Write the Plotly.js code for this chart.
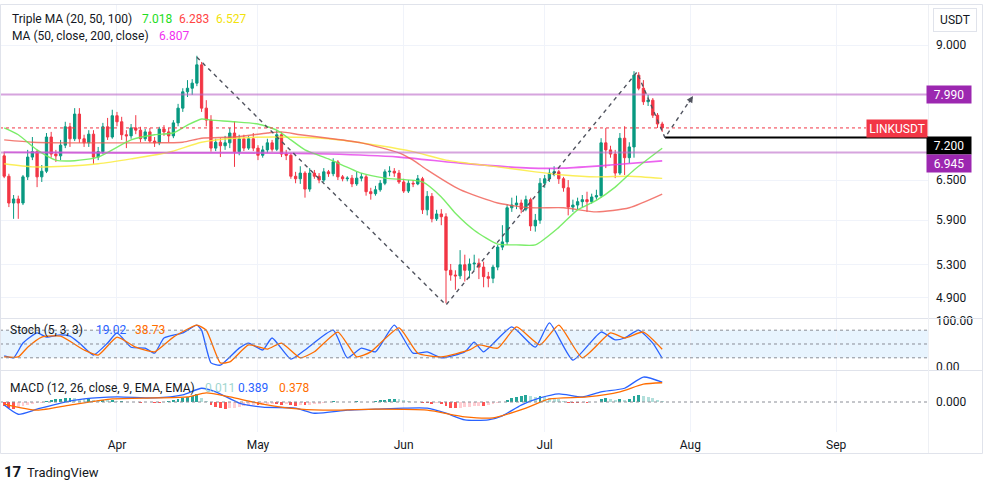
<!DOCTYPE html>
<html><head><meta charset="utf-8">
<script src="https://cdn.plot.ly/plotly-3.0.1.min.js"></script>
<style>html,body{margin:0;padding:0;background:#fff;}#chart{width:984px;height:481px;}</style>
</head><body><div id="chart"></div>
<script>
// ---- candle data (LINKUSDT daily, from 2023-03-08) ----
const startDate = [2023, 2, 8];
const open = [6.89,6.56,6.15,6.21,6.15,6.55,6.87,6.96,6.55,6.64,
7.21,6.92,6.89,7.07,7.39,7.18,7.62,7.18,7.11,7.26,
6.87,6.96,7.39,7.21,7.59,7.48,7.25,7.23,7.37,7.33,
7.18,7.30,7.14,7.11,7.35,7.30,7.23,7.46,7.73,8.04,
8.11,8.21,8.58,7.73,7.51,7.02,7.12,7.06,7.11,7.28,
6.96,7.18,7.02,7.18,7.02,6.90,6.99,7.11,7.00,7.25,
6.92,6.90,6.56,6.52,6.61,6.36,6.61,6.56,6.50,6.63,
6.60,6.79,6.55,6.52,6.53,6.44,6.53,6.55,6.32,6.29,
6.35,6.45,6.63,6.64,6.61,6.47,6.33,6.45,6.44,6.52,
6.05,6.25,5.92,5.99,5.95,5.23,5.17,5.16,5.30,5.23,
5.31,5.32,5.27,5.15,5.13,5.27,5.53,5.60,6.08,6.12,
6.15,6.06,6.20,5.82,5.90,6.45,6.52,6.61,6.63,6.52,
6.38,6.09,6.12,6.17,6.20,6.17,6.24,6.26,7.11,6.99,
6.92,6.61,7.19,6.86,7.04,8.37,8.11,7.85,7.88,7.60,
7.44];
const close = [6.56,6.15,6.21,6.15,6.55,6.87,6.96,6.55,6.64,7.21,
6.92,6.89,7.07,7.39,7.18,7.62,7.18,7.11,7.26,6.87,
6.96,7.39,7.21,7.59,7.48,7.25,7.23,7.37,7.33,7.18,
7.30,7.14,7.11,7.35,7.30,7.23,7.46,7.73,8.04,8.11,
8.21,8.58,7.73,7.51,7.02,7.12,7.06,7.11,7.28,6.96,
7.18,7.02,7.18,7.02,6.90,6.99,7.11,7.00,7.25,6.92,
6.90,6.56,6.52,6.61,6.36,6.61,6.56,6.50,6.63,6.60,
6.79,6.55,6.52,6.53,6.44,6.53,6.55,6.32,6.29,6.35,
6.45,6.63,6.64,6.61,6.47,6.33,6.45,6.44,6.52,6.05,
6.25,5.92,5.99,5.95,5.23,5.17,5.16,5.30,5.23,5.31,
5.32,5.27,5.15,5.13,5.27,5.53,5.60,6.08,6.12,6.15,
6.06,6.20,5.82,5.90,6.45,6.52,6.61,6.63,6.52,6.38,
6.09,6.12,6.17,6.20,6.17,6.24,6.26,7.11,6.99,6.92,
6.61,7.19,6.86,7.04,8.37,8.11,7.85,7.88,7.60,7.44,
7.37];
const high = [6.96,6.60,6.27,6.26,6.58,6.99,7.21,6.99,6.74,7.28,
7.30,6.99,7.16,7.48,7.46,7.73,7.73,7.25,7.33,7.33,
7.04,7.46,7.55,7.70,7.66,7.57,7.33,7.44,7.60,7.39,
7.35,7.37,7.21,7.39,7.42,7.37,7.51,7.81,8.11,8.27,
8.29,8.77,8.64,7.88,7.60,7.18,7.19,7.23,7.37,7.49,
7.25,7.25,7.23,7.28,7.07,7.06,7.18,7.16,7.33,7.30,
6.99,6.94,6.63,6.72,6.64,6.69,6.66,6.61,6.69,6.66,
6.85,6.82,6.58,6.56,6.58,6.63,6.61,6.58,6.38,6.41,
6.50,6.67,6.72,6.69,6.66,6.52,6.50,6.50,6.58,6.55,
6.33,6.30,6.05,6.06,6.00,5.31,5.23,5.49,5.43,5.38,
5.43,5.38,5.34,5.21,5.30,5.56,5.83,6.13,6.23,6.26,
6.20,6.26,6.23,5.99,6.53,6.58,6.69,6.72,6.66,6.55,
6.50,6.20,6.23,6.27,6.32,6.29,6.35,7.19,7.37,7.06,
6.99,7.28,7.40,7.12,8.45,8.43,8.27,7.98,7.92,7.64,
7.48];
const low = [6.53,6.09,5.92,5.92,6.12,6.50,6.82,6.39,6.47,6.61,
6.86,6.79,6.82,7.02,7.04,7.14,7.11,7.04,7.04,6.76,
6.82,6.92,7.16,7.18,7.40,7.16,7.02,7.18,7.26,7.12,
7.14,7.11,7.04,7.07,7.23,7.12,7.19,7.40,7.66,7.94,
7.98,8.15,7.66,7.40,6.96,6.97,6.87,6.99,7.02,6.71,
6.90,6.97,6.99,6.97,6.82,6.86,6.94,6.96,6.97,6.87,
6.82,6.52,6.45,6.44,6.23,6.32,6.52,6.45,6.47,6.55,
6.56,6.50,6.48,6.48,6.39,6.41,6.48,6.26,6.20,6.26,
6.32,6.42,6.56,6.55,6.44,6.30,6.30,6.39,6.42,5.99,
5.97,5.87,5.89,5.83,4.83,5.10,4.99,5.12,5.09,5.13,
5.23,5.12,5.02,5.02,5.07,5.23,5.49,5.56,6.02,6.06,
6.00,6.03,5.75,5.74,5.85,6.38,6.47,6.56,6.44,6.32,
5.97,6.02,6.05,6.09,6.02,6.14,6.20,6.23,6.69,6.86,
6.53,6.58,6.58,6.77,6.86,8.07,7.79,7.77,7.55,7.37,
7.30];

// ---- moving averages ----
const ma20Dates = ['2023-03-08','2023-03-11','2023-03-15','2023-03-19','2023-03-23','2023-03-28','2023-04-04','2023-04-09','2023-04-13','2023-04-16','2023-04-19','2023-04-21','2023-04-26','2023-05-01','2023-05-05','2023-05-08','2023-05-11','2023-05-16','2023-05-23','2023-05-28','2023-06-05','2023-06-09','2023-06-12','2023-06-16','2023-06-21','2023-06-25','2023-06-29','2023-07-04','2023-07-08','2023-07-12','2023-07-16','2023-07-20','2023-07-26'];
const ma20 = [7.37,7.25,6.99,6.82,6.81,6.87,7.16,7.25,7.28,7.42,7.53,7.51,7.48,7.44,7.33,7.16,6.99,6.84,6.61,6.53,6.47,6.24,6.00,5.76,5.57,5.56,5.56,5.80,6.05,6.19,6.39,6.66,7.018];
const ma50Dates = ['2023-03-08','2023-03-14','2023-03-21','2023-04-01','2023-04-08','2023-04-15','2023-04-19','2023-04-26','2023-05-03','2023-05-06','2023-05-10','2023-05-16','2023-05-23','2023-05-31','2023-06-03','2023-06-06','2023-06-13','2023-06-21','2023-06-28','2023-07-05','2023-07-12','2023-07-19','2023-07-26'];
const ma50 = [7.16,7.12,7.11,7.11,7.11,7.12,7.19,7.21,7.28,7.30,7.25,7.19,7.11,6.94,6.82,6.66,6.35,6.15,6.08,6.08,6.02,6.08,6.283];
const ma100Dates = ['2023-03-08','2023-03-14','2023-03-21','2023-03-28','2023-04-04','2023-04-12','2023-04-19','2023-04-26','2023-05-06','2023-05-16','2023-05-27','2023-06-03','2023-06-10','2023-06-21','2023-06-29','2023-07-05','2023-07-12','2023-07-19','2023-07-26'];
const ma100 = [6.76,6.71,6.72,6.76,6.84,6.95,7.12,7.19,7.21,7.18,7.06,6.96,6.82,6.71,6.63,6.58,6.55,6.56,6.527];
const ma200Dates = ['2023-03-08','2023-04-01','2023-04-26','2023-05-16','2023-05-31','2023-06-13','2023-06-28','2023-07-05','2023-07-15','2023-07-26'];
const ma200 = [6.95,6.94,6.94,6.92,6.87,6.77,6.69,6.69,6.74,6.807];

// ---- drawings ----
const levelLines = [7.99, 6.945];
const levelLabels = ['7.990', '6.945'];
const rayLevel = 7.20;
const rayStart = '2023-07-26 14:00';
const pathDates = ['2023-04-18','2023-06-10','2023-07-20 15:00','2023-07-26 14:00','2023-08-01 13:00'];
const pathPrices = [8.74, 4.81, 8.43, 7.20, 7.96];

// ---- stochastic (5,3,3) ----
const stochKDates = ['03-08','03-10','03-12','03-15','03-17','03-20','03-22','03-24','03-27','03-30','04-01','04-04','04-07','04-09','04-11','04-15','04-18','04-19','04-21','04-23','04-27','04-29','05-02','05-04','05-08','05-11','05-17','05-20','05-23','05-26','05-30','06-03','06-06','06-09','06-14','06-16','06-18','06-24','06-29','07-02','07-07','07-13','07-16','07-18','07-21','07-24','07-26'];
const stochK = [24,20,52,74,65,70,67,52,26,52,74,43,41,30,63,74,91,80,9,4,41,52,37,63,17,37,80,20,41,33,91,30,33,20,33,54,33,87,43,96,15,76,59,63,80,52,19.02];
const stochDDates = ['03-08','03-11','03-13','03-16','03-20','03-25','03-28','04-01','04-05','04-09','04-13','04-18','04-20','04-23','04-25','04-29','05-03','05-06','05-10','05-13','05-18','05-22','05-25','05-31','06-04','06-09','06-15','06-17','06-21','06-25','06-30','07-04','07-09','07-15','07-18','07-22','07-26'];
const stochD = [22,22,43,65,67,37,26,65,43,33,65,91,80,9,11,48,39,52,20,33,76,22,33,85,30,22,37,48,41,87,48,91,20,74,63,76,38.73];

// ---- MACD (12,26,9) ----
const macdDates = ['03-08','03-11','03-15','03-20','03-25','04-01','04-09','04-15','04-19','04-22','04-27','05-02','05-09','05-13','05-20','05-26','06-01','06-06','06-10','06-14','06-19','06-22','06-26','06-30','07-04','07-09','07-13','07-18','07-22','07-26'];
const macd = [-0.06,-0.24,-0.14,-0.02,0.06,0.10,0.08,0.14,0.27,0.20,-0.02,-0.10,-0.12,-0.22,-0.16,-0.14,-0.12,-0.12,-0.22,-0.35,-0.35,-0.27,-0.06,0.08,0.16,0.10,0.20,0.27,0.49,0.389];
const signalDates = ['03-08','03-15','03-22','03-31','04-09','04-16','04-20','04-25','05-02','05-10','05-17','05-26','06-06','06-14','06-20','06-27','07-02','07-10','07-17','07-22','07-26'];
const signal = [-0.04,-0.16,-0.06,0.06,0.08,0.10,0.18,0.10,-0.04,-0.14,-0.16,-0.14,-0.16,-0.29,-0.31,-0.12,0.06,0.10,0.20,0.35,0.378];
const hist = [-0.08,-0.12,-0.13,-0.10,-0.07,
-0.05,-0.03,-0.02,-0.01,
0.02,0.04,0.05,0.06,0.07,0.08,0.07,0.06,
0.05,0.06,0.04,0.03,0.04,0.03,
0.03,0.02,0.02,0.01,0.01,0.00,-0.01,0.01,0.00,
-0.01,-0.01,0.01,0.02,0.03,0.05,
0.08,0.10,0.12,0.15,
0.08,0.02,
-0.06,-0.10,-0.12,-0.13,-0.12,
-0.11,-0.09,-0.08,-0.07,-0.06,-0.06,
-0.05,-0.04,-0.03,-0.04,-0.05,-0.04,
-0.06,-0.07,-0.06,-0.06,-0.05,-0.04,
-0.03,-0.01,0.01,0.02,0.01,
0.01,0.00,0.01,0.02,0.01,0.00,0.01,
0.02,0.03,0.04,0.05,0.06,0.05,0.03,
0.02,0.00,0.01,-0.01,-0.01,-0.03,-0.02,
-0.04,-0.08,-0.11,-0.12,-0.11,-0.10,-0.09,
-0.08,-0.07,-0.07,-0.06,-0.04,-0.02,0.01,
0.04,0.07,0.10,0.12,0.13,0.12,0.10,0.11,
0.10,0.08,0.07,0.05,0.02,
-0.01,-0.02,-0.02,-0.01,-0.01,0.00,
0.01,0.06,0.07,0.05,0.03,0.05,0.04,0.05,
0.11,0.13,0.12,0.10,0.07,0.04,0.011];

const monthTicks = ['Apr','May','Jun','Jul','Aug','Sep'];
const priceTicks = [9, 6.5, 5.9, 5.3, 4.9];
const priceTickText = ['9.000','6.500','5.900','5.300','4.900'];

// ---------------------------------------------------------------
const dates = open.map((_, i) => new Date(Date.UTC(startDate[0], startDate[1], startDate[2] + i)).toISOString().slice(0, 10));
const full = arr => arr.map(d => '2023-' + d);
const X0 = '2023-03-07 02:40', X1 = '2023-09-20 13:12';
const PW = 928, PH = 427, BOT = 432;
const px = x => x / PW;
const py = y => (BOT - y) / PH;

const histColors = hist.map((v, i) => {
  const p = i > 0 ? hist[i - 1] : 0;
  if (v >= 0) return v >= p ? '#26a69a' : '#b2dfdb';
  return v <= p ? '#ff5252' : '#ffcdd2';
});

const traces = [
  {type:'candlestick', x:dates, open, high, low, close, xaxis:'x', yaxis:'y',
   increasing:{line:{color:'#089981', width:1}, fillcolor:'#089981'},
   decreasing:{line:{color:'#f23645', width:1}, fillcolor:'#f23645'},
   whiskerwidth:0, hoverinfo:'skip'},
  {type:'scatter', mode:'lines', x:ma200Dates, y:ma200, yaxis:'y', line:{color:'rgba(230,60,235,0.8)', width:1.6, shape:'spline', smoothing:0.6}, hoverinfo:'skip'},
  {type:'scatter', mode:'lines', x:ma100Dates, y:ma100, yaxis:'y', line:{color:'rgba(250,235,60,0.85)', width:1.4, shape:'spline', smoothing:0.6}, hoverinfo:'skip'},
  {type:'scatter', mode:'lines', x:ma50Dates, y:ma50, yaxis:'y', line:{color:'rgba(240,90,80,0.8)', width:1.4, shape:'spline', smoothing:0.6}, hoverinfo:'skip'},
  {type:'scatter', mode:'lines', x:ma20Dates, y:ma20, yaxis:'y', line:{color:'rgba(110,235,90,0.9)', width:1.4, shape:'spline', smoothing:0.6}, hoverinfo:'skip'},
  // horizontal levels
  ...levelLines.map(v => ({type:'scatter', mode:'lines', x:[X0, X1], y:[v, v], yaxis:'y', line:{color:'rgba(186,104,200,0.6)', width:2}, hoverinfo:'skip'})),
  {type:'scatter', mode:'lines', x:[X0, '2023-09-07 09:00'], y:[close[close.length-1], close[close.length-1]], yaxis:'y', line:{color:'#f23645', width:1, dash:'dot'}, hoverinfo:'skip'},
  {type:'scatter', mode:'lines', x:[rayStart, X1], y:[rayLevel, rayLevel], yaxis:'y', line:{color:'#000000', width:2}, hoverinfo:'skip'},
  {type:'scatter', mode:'lines', x:pathDates, y:pathPrices, yaxis:'y', line:{color:'#50535e', width:1.4, dash:'4px,4px'}, hoverinfo:'skip'},
  // stochastic
  {type:'scatter', mode:'lines', x:full(stochKDates), y:stochK, yaxis:'y2', line:{color:'#2962ff', width:1.3, shape:'spline', smoothing:0.5}, hoverinfo:'skip'},
  {type:'scatter', mode:'lines', x:full(stochDDates), y:stochD, yaxis:'y2', line:{color:'#ff6d00', width:1.3, shape:'spline', smoothing:0.5}, hoverinfo:'skip'},
  // MACD
  {type:'bar', x:dates, y:hist, yaxis:'y3', marker:{color:histColors, line:{width:0}}, width:0.6*86400000, hoverinfo:'skip'},
  {type:'scatter', mode:'lines', x:full(macdDates), y:macd, yaxis:'y3', line:{color:'#2962ff', width:1.3, shape:'spline', smoothing:0.6}, hoverinfo:'skip'},
  {type:'scatter', mode:'lines', x:full(signalDates), y:signal, yaxis:'y3', line:{color:'#ff6d00', width:1.3, shape:'spline', smoothing:0.6}, hoverinfo:'skip'}
];

const FONT = 'Trebuchet MS, Roboto, Liberation Sans, sans-serif';
const txt = (x, y, text, color, size, anchor) => ({xref:'paper', yref:'paper', x:px(x), y:py(y), text, showarrow:false,
  xanchor:anchor || 'left', yanchor:'middle', font:{family:FONT, size:size || 12, color:color || '#131722'}});
const tag = (cx, cy, text, bg, w) => ({xref:'paper', yref:'paper', x:px(cx), y:py(cy), text, showarrow:false,
  xanchor:'center', yanchor:'middle', bgcolor:bg, width:w || 42, height:15, borderpad:1,
  font:{family:FONT, size:12, color:'#ffffff'}});

const annotations = [
  txt(10, 19, 'Triple MA (20, 50, 100)'),
  txt(140, 19, '7.018', '#22dd22'),
  txt(177, 19, '6.283', '#ff4545'),
  txt(214, 19, '6.527', '#f2e20a'),
  txt(10, 36, 'MA (50, close, 200, close)'),
  txt(157, 36, '6.807', '#f030f0'),
  txt(8, 330, 'Stoch (5, 3, 3)'),
  txt(94, 330, '19.02', '#2962ff'),
  txt(133, 330, '38.73', '#ff6d00'),
  txt(8, 388, 'MACD (12, 26, close, 9, EMA, EMA)'),
  txt(203, 388, '0.011', '#9fd6cf'),
  txt(236, 388, '0.389', '#2962ff'),
  txt(277, 388, '0.378', '#ff6d00'),
  tag(949, 94.5, levelLabels[0], '#9c27b0'),
  tag(949, 145, rayLevel.toFixed(3), '#000000'),
  tag(949, 163, levelLabels[1], '#9c27b0'),
  tag(896.5, 128.5, 'LINKUSDT', '#f23645', 58),
  {xref:'paper', yref:'paper', x:px(954.5), y:py(20), text:'USDT', showarrow:false, xanchor:'center', yanchor:'middle',
   width:40, height:20, bgcolor:'#ffffff', bordercolor:'#e0e3eb', borderwidth:1, font:{family:FONT, size:12, color:'#131722'}},
  txt(2, 472, '<b>17</b>', '#131722', 15),
  txt(25, 472, 'TradingView', '#131722', 13),
  {xref:'x', yref:'y', x:pathDates[4], y:Math.log10(pathPrices[4]), ax:-5, ay:8, showarrow:true, arrowhead:2, arrowsize:1, arrowwidth:1.3, arrowcolor:'#50535e', text:'', standoff:0}
];

const shapes = [
  {type:'rect', xref:'paper', yref:'y2', x0:0, x1:1, y0:20, y1:80, fillcolor:'rgba(33,150,243,0.1)', line:{width:0}, layer:'below'},
  ...[80, 50, 20].map(v => ({type:'line', xref:'paper', yref:'y2', x0:0, x1:1, y0:v, y1:v, line:{color:'#8a8d96', width:1, dash:'3px,3px'}})),
  {type:'line', xref:'paper', yref:'y3', x0:0, x1:1, y0:0, y1:0, line:{color:'#8a8d96', width:1, dash:'3px,3px'}},
  {type:'line', xref:'paper', yref:'paper', x0:0, x1:px(983), y0:py(318.5), y1:py(318.5), line:{color:'#e0e3eb', width:1}},
  {type:'line', xref:'paper', yref:'paper', x0:0, x1:px(983), y0:py(370.5), y1:py(370.5), line:{color:'#e0e3eb', width:1}},
  {type:'line', xref:'paper', yref:'paper', x0:px(928.5), x1:px(928.5), y0:py(5), y1:py(453), line:{color:'#eef0f4', width:1}},
  {type:'rect', xref:'paper', yref:'paper', x0:px(0.5), x1:px(982.5), y0:py(4.5), y1:py(453.5), line:{color:'#e0e3eb', width:1}}
];

const axisFont = {family:FONT, size:12, color:'#131722'};
const layout = {
  width:984, height:481, margin:{l:0, r:56, t:5, b:49},
  paper_bgcolor:'#ffffff', plot_bgcolor:'#ffffff', showlegend:false,
  font:{family:FONT, size:12, color:'#131722'},
  xaxis:{type:'date', range:[X0, X1], anchor:'y3', showgrid:true, gridcolor:'#f0f3fa', gridwidth:1,
         tickmode:'array', tickvals:['2023-04-01','2023-05-01','2023-06-01','2023-07-01','2023-08-01','2023-09-01'], ticktext:monthTicks,
         ticks:'', showline:false, zeroline:false, rangeslider:{visible:false}, tickfont:axisFont, ticklabelstandoff:4},
  yaxis:{domain:[py(318), 1], type:'log', range:[Math.log10(4.6617), Math.log10(9.911)], side:'right', anchor:'x',
         tickmode:'array', tickvals:priceTicks, ticktext:priceTickText, showgrid:true, gridcolor:'#f0f3fa',
         zeroline:false, ticks:'', tickfont:axisFont, ticklabelstandoff:7},
  yaxis2:{domain:[py(370), py(319)], range:[-6.5, 104.3], side:'right', anchor:'x', tickmode:'array', tickvals:[0, 100], ticktext:['0.00','100.00'],
          showgrid:false, zeroline:false, ticks:'', tickfont:axisFont, ticklabelstandoff:7},
  yaxis3:{domain:[0, py(371)], range:[-0.588, 0.608], side:'right', anchor:'x', tickmode:'array', tickvals:[0], ticktext:['0.000'],
          showgrid:false, zeroline:false, ticks:'', tickfont:axisFont, ticklabelstandoff:7},
  annotations, shapes, bargap:0
};

Plotly.newPlot('chart', traces, layout, {staticPlot:true, displayModeBar:false});
</script>
</body></html>
